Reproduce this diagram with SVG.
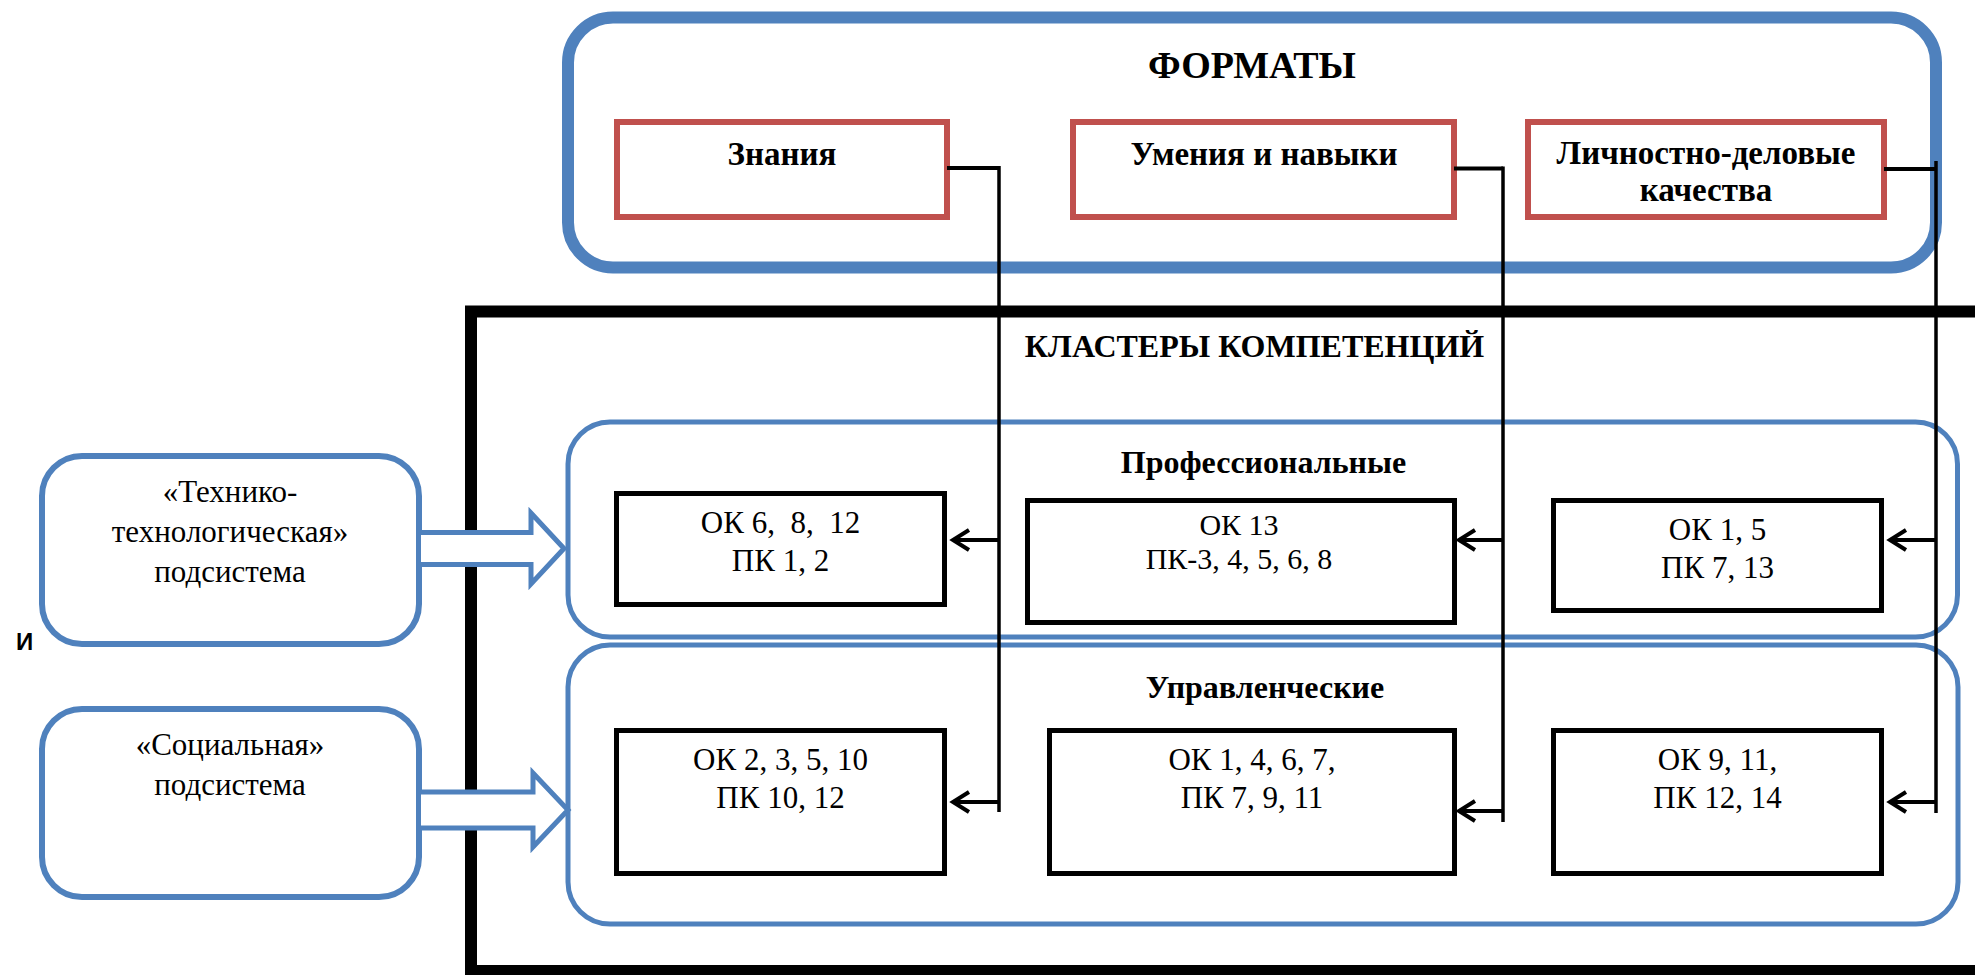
<svg xmlns="http://www.w3.org/2000/svg" width="1975" height="975" viewBox="0 0 1975 975">
<style>
.t{font-family:"Liberation Serif","Times New Roman",serif;fill:#000;text-anchor:middle}
.b{font-weight:bold}
.r{font-size:31px}
.h{font-size:33px}
.blue{fill:#fff;stroke:#4F81BD}
.red{fill:#fff;stroke:#C0504D;stroke-width:6}
.blk{fill:#fff;stroke:#000;stroke-width:5}
.conn{fill:none;stroke:#000;stroke-width:3.5}
.arr{fill:none;stroke:#000;stroke-width:4}
</style>
<defs>
<marker id="ah" markerUnits="userSpaceOnUse" markerWidth="30" markerHeight="30" viewBox="-24 -15 30 30" refX="0" refY="0" orient="auto" overflow="visible">
<path d="M-16,-10 L0,0 L-16,10" fill="none" stroke="#000" stroke-width="4"/>
</marker>
</defs>
<rect width="1975" height="975" fill="#fff"/>

<g id="formats">
<rect x="568" y="17.5" width="1368" height="250" rx="45" class="blue" stroke-width="12"/>
<text x="1252" y="78" class="t b" font-size="38">ФОРМАТЫ</text>
</g>
<g id="znaniya">
<rect x="617" y="122" width="330" height="95" class="red"/>
<text x="782" y="165" class="t b h">Знания</text>
</g>
<g id="umeniya">
<rect x="1073" y="122" width="381" height="95" class="red"/>
<text x="1264" y="165" class="t b h">Умения и навыки</text>
</g>
<g id="lichnostno">
<rect x="1528" y="122" width="356" height="95" class="red"/>
<text x="1706" y="164" class="t b h">Личностно-деловые</text>
<text x="1706" y="201" class="t b h">качества</text>
</g>

<g id="clusters">
<rect x="471" y="311.5" width="1600" height="659.5" fill="#fff" stroke="#000" stroke-width="12"/>
<text x="1254.5" y="357" class="t b" font-size="32">КЛАСТЕРЫ КОМПЕТЕНЦИЙ</text>
</g>

<g id="prof">
<rect x="568" y="422" width="1389.5" height="215" rx="42" class="blue" stroke-width="5"/>
<text x="1263.5" y="473" class="t b" font-size="32">Профессиональные</text>
</g>
<g id="upr">
<rect x="568" y="645" width="1390" height="279" rx="42" class="blue" stroke-width="5"/>
<text x="1265" y="698" class="t b" font-size="32">Управленческие</text>
</g>

<g id="p1">
<rect x="616.5" y="493.5" width="328" height="111" class="blk"/>
<text x="780.5" y="533" class="t r" xml:space="preserve">ОК 6,  8,  12</text>
<text x="780.5" y="571" class="t r">ПК 1, 2</text>
</g>
<g id="p2">
<rect x="1027.5" y="500.5" width="427" height="122" class="blk"/>
<text x="1239" y="535" class="t" font-size="30">ОК 13</text>
<text x="1239" y="569" class="t" font-size="30">ПК-3, 4, 5, 6, 8</text>
</g>
<g id="p3">
<rect x="1553.5" y="500.5" width="328" height="110" class="blk"/>
<text x="1717.5" y="540" class="t r">ОК 1, 5</text>
<text x="1717.5" y="578" class="t r">ПК 7, 13</text>
</g>
<g id="u1">
<rect x="616.5" y="730.5" width="328" height="143" class="blk"/>
<text x="780.5" y="770" class="t r">ОК 2, 3, 5, 10</text>
<text x="780.5" y="808" class="t r">ПК 10, 12</text>
</g>
<g id="u2">
<rect x="1049.5" y="730.5" width="405" height="143" class="blk"/>
<text x="1252" y="770" class="t r">ОК 1, 4, 6, 7,</text>
<text x="1252" y="808" class="t r">ПК 7, 9, 11</text>
</g>
<g id="u3">
<rect x="1553.5" y="730.5" width="328" height="143" class="blk"/>
<text x="1717.5" y="770" class="t r">ОК 9, 11,</text>
<text x="1717.5" y="808" class="t r">ПК 12, 14</text>
</g>

<g id="tech">
<rect x="42" y="456" width="377" height="188" rx="40" fill="#fff" stroke="#4F81BD" stroke-width="6"/>
<text x="230" y="502" class="t" font-size="31">«Технико-</text>
<text x="230" y="542" class="t" font-size="31">технологическая»</text>
<text x="230" y="582" class="t" font-size="31">подсистема</text>
</g>
<g id="social">
<rect x="42" y="709" width="377" height="188" rx="40" fill="#fff" stroke="#4F81BD" stroke-width="6"/>
<text x="230" y="755" class="t" font-size="31">«Социальная»</text>
<text x="230" y="795" class="t" font-size="31">подсистема</text>
</g>
<g id="i-label">
<text x="16" y="650" font-family="Liberation Sans, Arial, sans-serif" font-weight="bold" font-size="24">И</text>
</g>

<g id="connectors">
<path d="M421,532.5 L531,532.5 L531,513 L564,548.5 L531,584 L531,564.5 L421,564.5" fill="#fff" stroke="#4F81BD" stroke-width="5"/>
<path d="M421,792 L533,792 L533,773 L568,810 L533,847 L533,828 L421,828" fill="#fff" stroke="#4F81BD" stroke-width="5"/>

<path d="M947,168 L999,168" class="arr"/>
<path d="M999,166 L999,812" class="conn"/>
<path d="M1454,168.5 L1503,168.5" class="arr"/>
<path d="M1503,166.5 L1503,822" class="conn"/>
<path d="M1884,169 L1936,169" class="arr"/>
<path d="M1936,161 L1936,813" class="conn"/>

<line x1="999" y1="540" x2="953" y2="540" class="arr" marker-end="url(#ah)"/>
<line x1="999" y1="802" x2="953" y2="802" class="arr" marker-end="url(#ah)"/>
<line x1="1503" y1="540" x2="1459" y2="540" class="arr" marker-end="url(#ah)"/>
<line x1="1503" y1="811" x2="1459" y2="811" class="arr" marker-end="url(#ah)"/>
<line x1="1936" y1="540" x2="1890" y2="540" class="arr" marker-end="url(#ah)"/>
<line x1="1936" y1="802" x2="1890" y2="802" class="arr" marker-end="url(#ah)"/>
</g>
</svg>
